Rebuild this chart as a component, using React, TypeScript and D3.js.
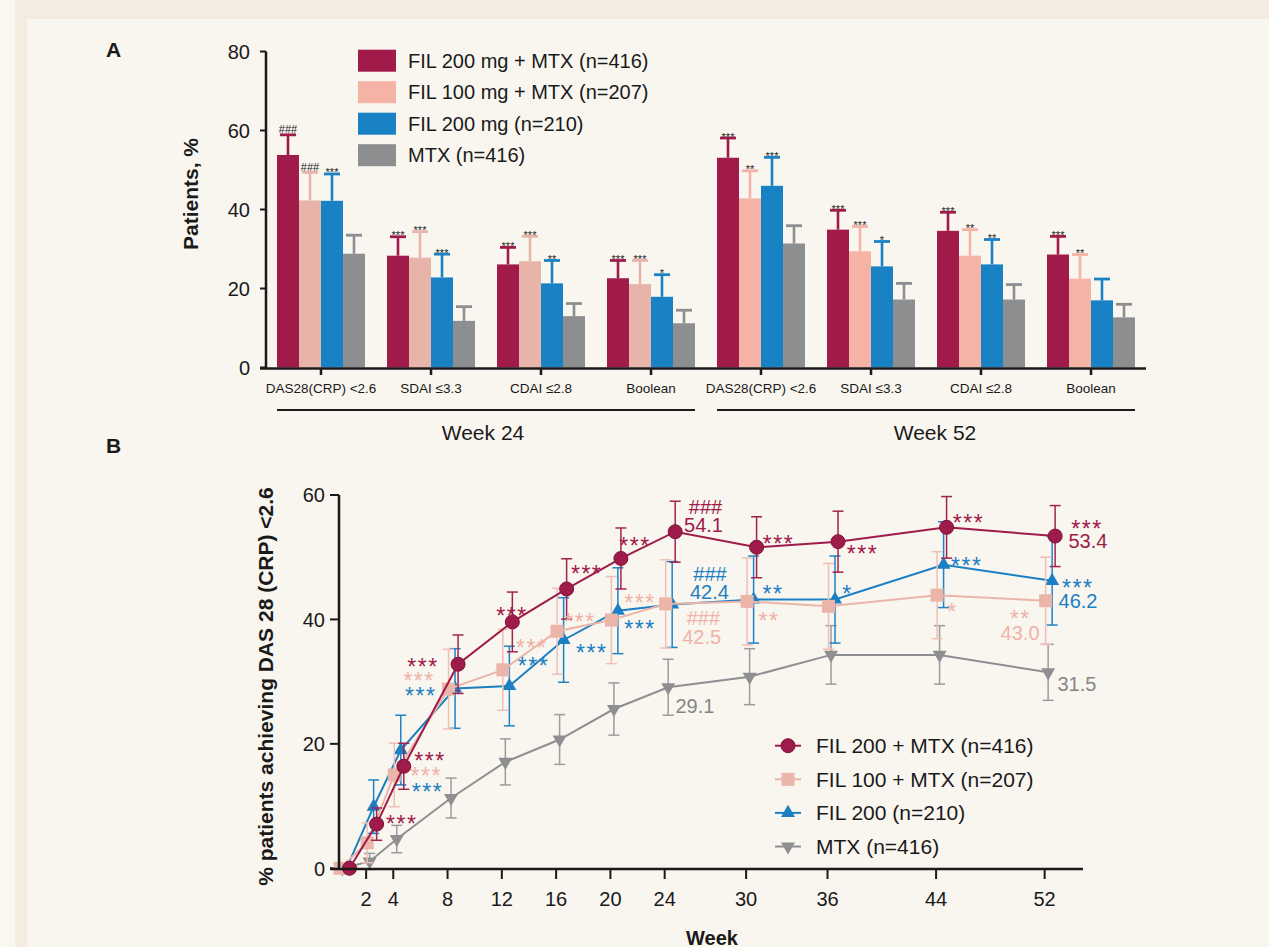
import React from 'react';
import * as d3 from 'd3';

// ---- Panel A: remission rates (bars) ----
const categoriesA = ['DAS28(CRP) <2.6', 'SDAI ≤3.3', 'CDAI ≤2.8', 'Boolean', 'DAS28(CRP) <2.6', 'SDAI ≤3.3', 'CDAI ≤2.8', 'Boolean'];
const periodsA = ['Week 24', 'Week 52'];
const seriesNamesA = ['FIL 200 mg + MTX (n=416)', 'FIL 100 mg + MTX (n=207)', 'FIL 200 mg (n=210)', 'MTX (n=416)'];

const fil200MtxA = [53.8, 28.3, 26.1, 22.6, 53.1, 34.9, 34.6, 28.6];
const fil100MtxA = [42.3, 27.8, 26.9, 21.1, 42.8, 29.4, 28.3, 22.5];
const fil200A = [42.2, 22.8, 21.3, 17.9, 46.0, 25.6, 26.1, 17.0];
const mtxA = [28.8, 11.8, 13.0, 11.2, 31.4, 17.2, 17.2, 12.7];

// upper end of the error bar
const fil200MtxUpA = [58.9, 33.1, 30.4, 27.1, 58.1, 39.8, 39.3, 33.2];
const fil100MtxUpA = [49.4, 34.4, 33.2, 27.1, 49.8, 35.7, 34.9, 28.6];
const fil200UpA = [49.0, 28.7, 27.1, 23.5, 53.2, 31.9, 32.4, 22.4];
const mtxUpA = [33.5, 15.4, 16.2, 14.5, 35.9, 21.3, 21.0, 16.0];

const fil200MtxSigA = ['###', '***', '***', '***', '***', '***', '***', '***'];
const fil100MtxSigA = ['###', '***', '***', '***', '**', '***', '**', '**'];
const fil200SigA = ['***', '***', '**', '*', '***', '*', '**', ''];
const mtxSigA = ['', '', '', '', '', '', '', ''];

const yTicksA = [0, 20, 40, 60, 80];

// ---- Panel B: DAS28(CRP) <2.6 over time ----
const weeksB = [0, 2, 4, 8, 12, 16, 20, 24, 30, 36, 44, 52];
const weekTicksB = [2, 4, 8, 12, 16, 20, 24, 30, 36, 44, 52];
const yTicksB = [0, 20, 40, 60];
const seriesNamesB = ['FIL 200 + MTX (n=416)', 'FIL 100 + MTX (n=207)', 'FIL 200 (n=210)', 'MTX (n=416)'];

const fil200MtxB = [0, 7.1, 16.4, 32.8, 39.6, 44.9, 49.8, 54.1, 51.6, 52.5, 54.8, 53.4];
const fil100MtxB = [0, 4.1, 15.0, 28.8, 31.9, 38.1, 39.9, 42.5, 42.9, 42.1, 43.9, 43.0];
const fil200B = [0, 9.9, 19.0, 28.9, 29.3, 36.7, 41.4, 42.4, 43.2, 43.2, 48.8, 46.2];
const mtxB = [0, 1.1, 4.7, 11.3, 17.1, 20.7, 25.6, 29.1, 30.8, 34.3, 34.3, 31.5];

// half-width of the error bars
const fil200MtxErrB = [0, 2.6, 3.7, 4.7, 4.8, 4.85, 4.9, 4.9, 4.9, 4.9, 4.95, 4.9];
const fil100MtxErrB = [0, 3.2, 5.1, 6.4, 6.5, 6.9, 7.0, 7.1, 7.0, 6.9, 7.0, 7.0];
const fil200ErrB = [0, 4.3, 5.6, 6.4, 6.4, 6.8, 6.9, 6.9, 7.0, 7.0, 6.9, 7.1];
const mtxErrB = [0, 1.3, 2.2, 3.2, 3.7, 4.0, 4.2, 4.5, 4.5, 4.7, 4.7, 4.5];

// callouts, anchored in data units (week, %): s = series index
const annotB = [
  { s: 0, text: '***', week: 4.62, value: 7.9 },
  { s: 0, text: '***', week: 6.7, value: 18.05 },
  { s: 0, text: '***', week: 6.19, value: 33.2 },
  { s: 0, text: '***', week: 12.75, value: 41.4 },
  { s: 0, text: '***', week: 18.25, value: 48.2 },
  { s: 0, text: '***', week: 21.81, value: 52.7 },
  { s: 0, text: '###', week: 27.01, value: 58.1 },
  { s: 0, text: '54.1', week: 26.86, value: 55.2 },
  { s: 0, text: '***', week: 32.39, value: 53.05 },
  { s: 0, text: '***', week: 38.58, value: 51.3 },
  { s: 0, text: '***', week: 46.39, value: 56.3 },
  { s: 0, text: '***', week: 55.12, value: 55.35 },
  { s: 0, text: '53.4', week: 55.19, value: 52.6 },
  { s: 1, text: '***', week: 5.9, value: 30.96 },
  { s: 1, text: '***', week: 6.43, value: 15.7 },
  { s: 1, text: '***', week: 14.2, value: 36.2 },
  { s: 1, text: '***', week: 17.76, value: 40.45 },
  { s: 1, text: '***', week: 22.18, value: 43.5 },
  { s: 1, text: '###', week: 26.85, value: 40.2 },
  { s: 1, text: '42.5', week: 26.73, value: 37.14 },
  { s: 1, text: '**', week: 31.69, value: 40.6 },
  { s: 1, text: '*', week: 45.21, value: 42.06 },
  { s: 1, text: '**', week: 50.21, value: 40.9 },
  { s: 1, text: '43.0', week: 50.19, value: 37.88 },
  { s: 2, text: '***', week: 6.02, value: 28.5 },
  { s: 2, text: '***', week: 6.52, value: 13.2 },
  { s: 2, text: '***', week: 14.33, value: 33.4 },
  { s: 2, text: '***', week: 18.62, value: 35.5 },
  { s: 2, text: '***', week: 22.18, value: 39.3 },
  { s: 2, text: '###', week: 27.34, value: 47.4 },
  { s: 2, text: '42.4', week: 27.3, value: 44.4 },
  { s: 2, text: '**', week: 31.98, value: 44.9 },
  { s: 2, text: '*', week: 37.47, value: 44.9 },
  { s: 2, text: '***', week: 46.26, value: 49.4 },
  { s: 2, text: '***', week: 54.44, value: 45.9 },
  { s: 2, text: '46.2', week: 54.46, value: 43.0 },
  { s: 3, text: '29.1', week: 26.23, value: 26.1 },
  { s: 3, text: '31.5', week: 54.38, value: 29.6 },
];

const FONT = '"Liberation Sans", Arial, Helvetica, sans-serif';
const INK = '#1a1a1a';

// week 24 pink is a little duller than week 52 in the source figure
const barColors = [
  ['#a01a4a', '#e8b4aa', '#1882c4', '#8d8e90'],
  ['#a01a4a', '#f5b3a6', '#1882c4', '#8d8e90'],
];
const lineColors = ['#9f1b49', '#ebb5a9', '#1a80c3', '#8f8f91'];
const errColors = ['#a3234f', '#efc0b6', '#1f84c5', '#9c9c9e'];
const textColors = ['#a01a4a', '#efb3a7', '#1a80c3', '#858587'];
const shapes = ['circle', 'square', 'up', 'down'];
const dodge = [10.5, 1, 7.5, 3.5];

function Marker({ shape, x, y, color }: { shape: string; x: number; y: number; color: string }) {
  if (shape === 'circle') return <circle cx={x} cy={y} r={7} fill={color} stroke="#7d1238" strokeWidth={1} />;
  if (shape === 'square') return <rect x={x - 6.5} y={y - 6.5} width={13} height={13} fill={color} />;
  const s = 14;
  const h = s * 0.866;
  const d = shape === 'up'
    ? `M${x},${y - (h * 2) / 3}L${x + s / 2},${y + h / 3}L${x - s / 2},${y + h / 3}Z`
    : `M${x},${y + (h * 2) / 3}L${x + s / 2},${y - h / 3}L${x - s / 2},${y - h / 3}Z`;
  return <path d={d} fill={color} />;
}

export default function App() {
  const W = 1269;
  const H = 947;

  // panel A scales
  const valuesA = [fil200MtxA, fil100MtxA, fil200A, mtxA];
  const upA = [fil200MtxUpA, fil100MtxUpA, fil200UpA, mtxUpA];
  const sigA = [fil200MtxSigA, fil100MtxSigA, fil200SigA, mtxSigA];
  const xA = d3.scaleBand<string>()
    .domain(categoriesA.map((_, i) => String(i)))
    .range([266, 1146])
    .paddingInner(0.2)
    .paddingOuter(0.1);
  const xInner = d3.scaleBand<number>().domain([0, 1, 2, 3]).range([0, xA.bandwidth()]);
  const yA = d3.scaleLinear().domain([0, 80]).range([367.5, 51.5]);

  // panel B scales
  const valuesB = [fil200MtxB, fil100MtxB, fil200B, mtxB];
  const errB = [fil200MtxErrB, fil100MtxErrB, fil200ErrB, mtxErrB];
  const xB = d3.scaleLinear().domain([0, 52]).range([339, 339 + 52 * 13.57]);
  const yB = d3.scaleLinear().domain([0, 60]).range([868.3, 495]);
  const drawOrder = [3, 2, 1, 0];

  const periodSpans = periodsA.map((p, k) => {
    const first = xA(String(k * 4)) as number;
    const last = (xA(String(k * 4 + 3)) as number) + xA.bandwidth();
    return { p, x1: first, x2: last };
  });
  const periodLabelX = [483, 935];

  return (
    <svg width={W} height={H} style={{ position: 'absolute', left: 0, top: 0, display: 'block' }} fontFamily={FONT}>
      {/* background */}
      <rect x={0} y={0} width={W} height={H} fill="#faf7f2" />
      <rect x={15} y={0} width={W - 15} height={H} fill="#f4ece1" />
      <rect x={27} y={19} width={W - 27} height={H - 19} fill="#f9f5ef" />

      {/* ===== Panel A ===== */}
      <text x={106} y={57} fontSize={21} fontWeight="bold" fill={INK}>A</text>
      <text transform="translate(198,194) rotate(-90)" textAnchor="middle" fontSize={21} fontWeight="bold" fill={INK}>Patients, %</text>

      {yTicksA.map((t) => (
        <g key={t}>
          <line x1={260} x2={266} y1={yA(t)} y2={yA(t)} stroke={INK} strokeWidth={2} />
          <text x={250} y={yA(t)} dy="0.36em" textAnchor="end" fontSize={20} fill={INK}>{t}</text>
        </g>
      ))}

      {categoriesA.map((c, i) => {
        const x0 = xA(String(i)) as number;
        const pal = barColors[i < 4 ? 0 : 1];
        return (
          <g key={i}>
            {valuesA.map((vals, s) => {
              const bx = x0 + (xInner(s) as number);
              const bw = xInner.bandwidth();
              const cx = bx + bw / 2;
              const top = yA(upA[s][i]);
              const sig = sigA[s][i];
              return (
                <g key={s}>
                  <rect x={bx} y={yA(vals[i])} width={bw} height={yA(0) - yA(vals[i])} fill={pal[s]} />
                  <line x1={cx} x2={cx} y1={yA(vals[i])} y2={top} stroke={pal[s]} strokeWidth={2.6} />
                  <line x1={cx - 8} x2={cx + 8} y1={top} y2={top} stroke={pal[s]} strokeWidth={2.8} />
                  {sig && (
                    <text x={cx} y={sig.startsWith('*') ? top + 2.5 : top - 1.5} textAnchor="middle" fontSize={11} fill="#222">{sig}</text>
                  )}
                </g>
              );
            })}
            <line x1={x0 + xA.bandwidth() / 2} x2={x0 + xA.bandwidth() / 2} y1={368} y2={375} stroke={INK} strokeWidth={2.5} />
            <text x={x0 + xA.bandwidth() / 2} y={393} textAnchor="middle" fontSize={13.5} fill={INK}>{c}</text>
          </g>
        );
      })}

      <line x1={266} x2={266} y1={yA(80)} y2={yA(0) + 1} stroke={INK} strokeWidth={2.5} />
      <line x1={260} x2={1146} y1={368.5} y2={368.5} stroke={INK} strokeWidth={2.5} />

      {periodSpans.map((d, k) => (
        <g key={d.p}>
          <line x1={d.x1} x2={d.x2} y1={410} y2={410} stroke={INK} strokeWidth={2.2} />
          <text x={periodLabelX[k]} y={440} textAnchor="middle" fontSize={21} fill={INK}>{d.p}</text>
        </g>
      ))}

      {seriesNamesA.map((n, s) => {
        const cy = 60.7 + s * 31.5;
        return (
          <g key={n}>
            <rect x={358} y={cy - 11} width={38} height={22} fill={barColors[1][s]} />
            <text x={408} y={cy} dy="0.36em" fontSize={20} fill={INK}>{n}</text>
          </g>
        );
      })}

      {/* ===== Panel B ===== */}
      <text x={106} y={453} fontSize={21} fontWeight="bold" fill={INK}>B</text>
      <text transform="translate(273,686.5) rotate(-90)" textAnchor="middle" fontSize={21} fontWeight="bold" fill={INK}>% patients achieving DAS 28 (CRP) &lt;2.6</text>

      {yTicksB.map((t) => (
        <g key={t}>
          <line x1={330} x2={339} y1={yB(t)} y2={yB(t)} stroke={INK} strokeWidth={2} />
          <text x={325} y={yB(t)} dy="0.36em" textAnchor="end" fontSize={20} fill={INK}>{t}</text>
        </g>
      ))}
      {weekTicksB.map((w) => (
        <g key={w}>
          <line x1={xB(w)} x2={xB(w)} y1={869} y2={879} stroke={INK} strokeWidth={2} />
          <text x={xB(w)} y={905.5} textAnchor="middle" fontSize={20} fill={INK}>{w}</text>
        </g>
      ))}
      <text x={712} y={945} textAnchor="middle" fontSize={20} fontWeight="bold" fill={INK}>Week</text>

      {drawOrder.map((s) => {
        const pts = weeksB.map((w, i) => ({ x: xB(w) + dodge[s], v: valuesB[s][i], e: errB[s][i] }));
        const line = d3.line<{ x: number; v: number }>().x((d) => d.x).y((d) => yB(d.v));
        return (
          <g key={s}>
            {pts.filter((p) => p.e > 0).map((p, i) => (
              <g key={i} stroke={errColors[s]} strokeWidth={1.5}>
                <line x1={p.x} x2={p.x} y1={yB(p.v - p.e)} y2={yB(p.v + p.e)} />
                <line x1={p.x - 5.5} x2={p.x + 5.5} y1={yB(p.v - p.e)} y2={yB(p.v - p.e)} />
                <line x1={p.x - 5.5} x2={p.x + 5.5} y1={yB(p.v + p.e)} y2={yB(p.v + p.e)} />
              </g>
            ))}
            <path d={line(pts) || ''} fill="none" stroke={lineColors[s]} strokeWidth={2} />
            {pts.map((p, i) => (
              <Marker key={i} shape={shapes[s]} x={p.x} y={yB(p.v)} color={lineColors[s]} />
            ))}
          </g>
        );
      })}

      <line x1={339} x2={339} y1={yB(60)} y2={870} stroke={INK} strokeWidth={2.5} />
      <line x1={330} x2={1083} y1={869} y2={869} stroke={INK} strokeWidth={2.5} />

      {annotB.map((a, i) => {
        const star = a.text.startsWith('*');
        return (
          <text
            key={i}
            x={xB(a.week)}
            y={yB(a.value)}
            dy={star ? '0.58em' : '0.36em'}
            textAnchor="middle"
            fontSize={star ? 23 : 20}
            letterSpacing={star ? 1.5 : 0}
            fill={textColors[a.s]}
          >
            {a.text}
          </text>
        );
      })}

      {seriesNamesB.map((n, s) => {
        const cy = 745.7 + s * 33.6;
        return (
          <g key={n}>
            <line x1={775} x2={801} y1={cy} y2={cy} stroke={lineColors[s]} strokeWidth={2} />
            <Marker shape={shapes[s]} x={788} y={cy} color={lineColors[s]} />
            <text x={816} y={cy} dy="0.36em" fontSize={21} fill={INK}>{n}</text>
          </g>
        );
      })}
    </svg>
  );
}
